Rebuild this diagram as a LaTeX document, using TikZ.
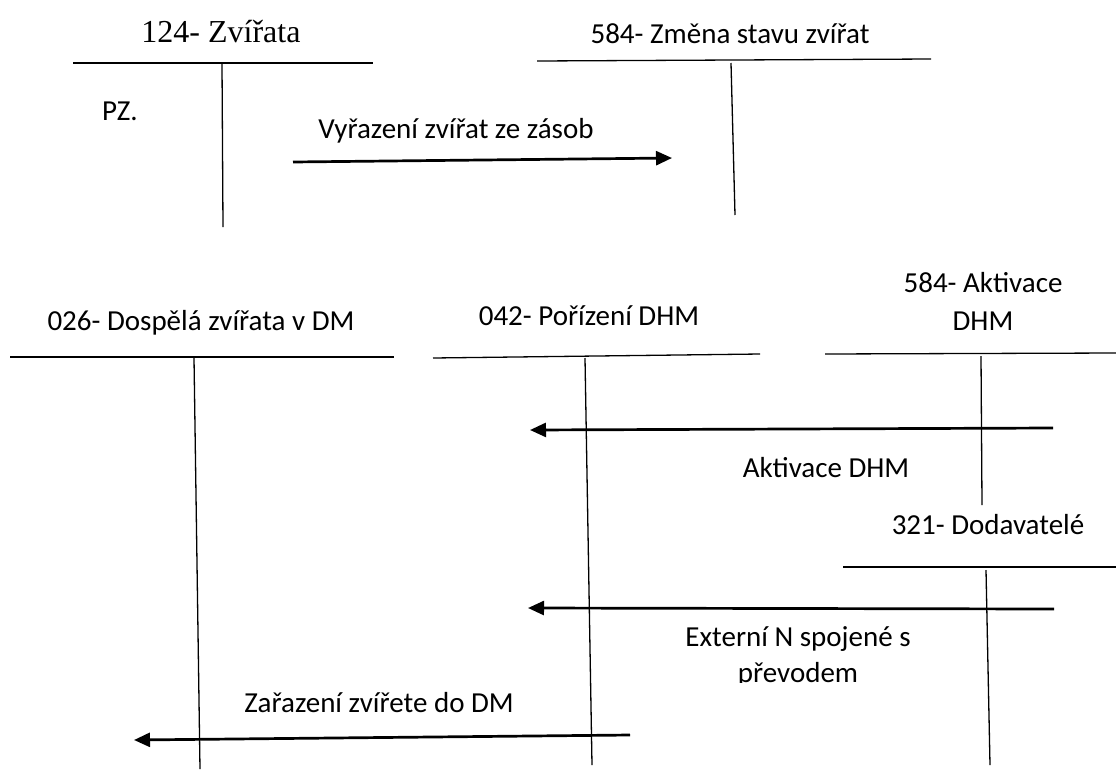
\documentclass[tikz,border=0pt]{standalone}
\usepackage{fontspec}
\setmainfont{Carlito}
\newfontfamily\titleserif{Liberation Serif}
\usetikzlibrary{arrows.meta}
\tikzset{
  lbl/.style={inner sep=0pt, font=\fontsize{29}{35}\selectfont, align=center},
  tline/.style={line width=1.3pt, black},
  flow/.style={line width=2.7pt, -{Triangle[length=16pt,width=14pt]}},
}
\begin{document}
\begin{tikzpicture}[x=1pt,y=-1pt]
\useasboundingbox[fill=white] (0,0) rectangle (1116,769);

% T-account 124
\node[lbl, font=\titleserif\fontsize{32}{36}\selectfont] (t124) at (221,32) {124- Zvířata};
\draw[tline] (73,63) -- (373,63);
\draw[tline] (222,64) -- (223,227);
\node[lbl, anchor=west] (pz) at (102,111) {PZ.};

% T-account 584 zmena
\node[lbl] (t584z) at (730,34) {584- Změna stavu zvířat};
\draw[tline] (537,61) -- (931,59);
\draw[tline] (731,63) -- (735,215);

% arrow 1
\coordinate (a1s) at (293,162);
\coordinate (a1e) at (672,158);
\draw[flow] (a1s) -- (a1e);
\node[lbl] (l1) at (456,131) {Vyřazení zvířat ze zásob};

% T-account 026
\node[lbl] (t026) at (201,323) {026- Dospělá zvířata v DM};
\draw[tline] (10,357) -- (394,357);
\draw[tline] (194,358) -- (200,769);

% T-account 042
\node[lbl] (t042) at (589,316) {042- Pořízení DHM};
\draw[tline] (433,358) -- (760,354);
\draw[tline] (585,358) -- (592,765);

% T-account 584 aktivace
\node[lbl] (t584a) at (983,301) {584- Aktivace\\[3pt]DHM};
\draw[tline] (825,354) -- (1116,353);
\draw[tline] (981,356) -- (982,505);

% arrow 2
\coordinate (a2s) at (1053,428);
\coordinate (a2e) at (530,430);
\draw[flow] (a2s) -- (a2e);
\node[lbl] (l2) at (826,468) {Aktivace DHM};

% T-account 321
\node[lbl] (t321) at (988,525) {321- Dodavatelé};
\draw[tline] (843,567) -- (1116,567);
\draw[tline] (986,570) -- (990,765);

% arrow 3
\coordinate (a3s) at (1054,609);
\coordinate (a3e) at (528,608);
\draw[flow] (a3s) -- (a3e);
\begin{scope}
\clip (650,615) rectangle (950,682);
\node[lbl, font=\fontsize{29}{36}\selectfont] (l3) at (798,657) {Externí N spojené s\\převodem};
\end{scope}

% arrow 4
\coordinate (a4s) at (630,735);
\coordinate (a4e) at (134,740);
\draw[flow] (a4s) -- (a4e);
\node[lbl] (l4) at (379,703) {Zařazení zvířete do DM};
\end{tikzpicture}
\end{document}
